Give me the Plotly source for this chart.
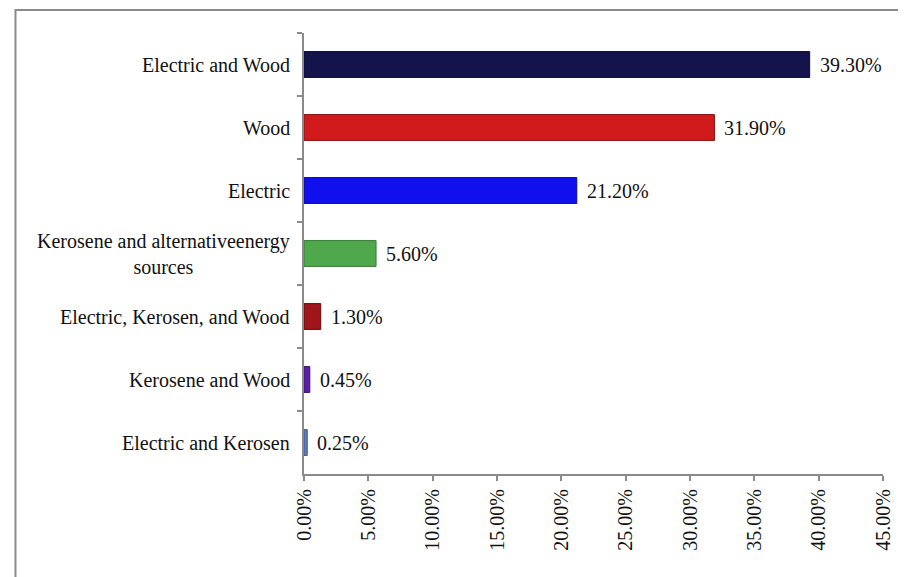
import plotly.graph_objects as go

categories = ["Electric and Wood", "Wood", "Electric",
              "Kerosene and alternativeenergy<br>sources",
              "Electric, Kerosen, and Wood", "Kerosene and Wood",
              "Electric and Kerosen"]
values = [39.30, 31.90, 21.20, 5.60, 1.30, 0.45, 0.25]
value_labels = ["39.30%", "31.90%", "21.20%", "5.60%", "1.30%", "0.45%", "0.25%"]
colors = ["#14134C", "#D11A1C", "#1010EE", "#4FA84C", "#A01519", "#5A1FA6", "#5B7BC2"]
outlines = ["#0A0A30", "#8A1010", "#0A0A90", "#3A7A38", "#600A0A", "#3A1070", "#3A5A90"]
x_ticks = [0, 5, 10, 15, 20, 25, 30, 35, 40, 45]
x_tick_labels = ["0.00%", "5.00%", "10.00%", "15.00%", "20.00%", "25.00%",
                 "30.00%", "35.00%", "40.00%", "45.00%"]

font = "Liberation Serif, Times New Roman, serif"

fig = go.Figure()
fig.add_trace(go.Bar(
    x=values, y=categories, orientation="h",
    marker=dict(color=colors, line=dict(color=outlines, width=1)),
    width=0.41, cliponaxis=False, hoverinfo="skip",
))

annotations = []
for c, v, t in zip(categories, values, value_labels):
    annotations.append(dict(x=v, y=c, xref="x", yref="y", text=t, showarrow=False,
                            xanchor="left", xshift=8, font=dict(family=font, size=20, color="#111")))
    annotations.append(dict(x=0, y=c, xref="paper", yref="y", text=c, showarrow=False,
                            xanchor="right", xshift=-12, align="center",
                            font=dict(family=font, size=20, color="#111")))

fig.update_layout(
    width=898, height=569,
    margin=dict(l=296, r=12, t=25, b=103),
    paper_bgcolor="white", plot_bgcolor="white",
    showlegend=False,
    annotations=annotations,
    xaxis=dict(range=[0, 45], tickvals=x_ticks, ticktext=x_tick_labels,
               tickangle=-90, showgrid=False, zeroline=False,
               showline=True, linecolor="#8a8a8a", linewidth=2,
               ticks="outside", ticklen=5, tickcolor="#8a8a8a", tickwidth=2,
               ticklabeloverflow="allow",
               tickfont=dict(family=font, size=20, color="#111")),
    yaxis=dict(categoryorder="array", categoryarray=categories, autorange="reversed",
               showticklabels=False, tickson="boundaries",
               showgrid=False, zeroline=False,
               showline=True, linecolor="#8a8a8a", linewidth=2,
               ticks="outside", ticklen=5, tickcolor="#8a8a8a", tickwidth=2),
    shapes=[dict(type="rect", xref="paper", yref="paper",
                 x0=-0.4983, x1=1.2, y0=-0.4, y1=1.0522,
                 line=dict(color="#8a8a8a", width=2), fillcolor="rgba(0,0,0,0)", layer="below")],
)

fig.write_html("out.html", config={"displayModeBar": False})
